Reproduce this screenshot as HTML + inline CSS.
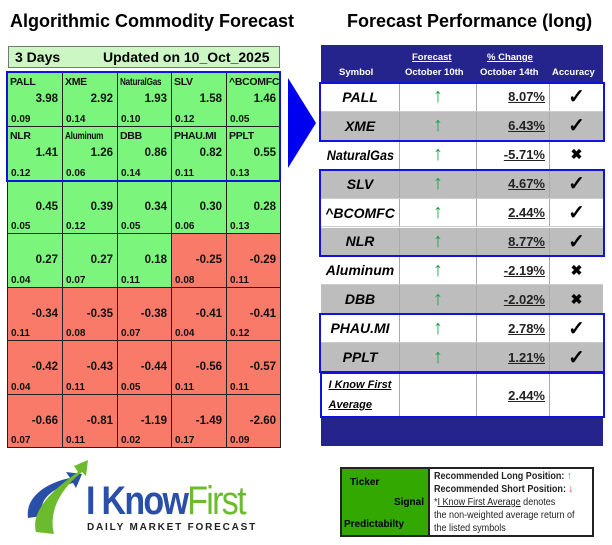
<!DOCTYPE html>
<html><head><meta charset="utf-8"><style>
body{margin:0;width:612px;height:545px;background:#fff;position:relative;overflow:hidden;font-family:"Liberation Sans",Arial,sans-serif}
.abs{position:absolute}
.title{font-weight:bold;font-size:18px;color:#000;top:11px;white-space:nowrap}
.cell{position:absolute;box-sizing:border-box;border:1px solid #222;font-weight:bold;color:#111}
.cell .n{position:absolute;left:2px;top:3px;font-size:10.5px;white-space:nowrap;letter-spacing:-0.3px;transform-origin:left}
.cell .v{position:absolute;right:4px;top:20px;font-size:11.5px}
.cell .p{position:absolute;left:3px;bottom:1px;font-size:10px}
.rc{position:absolute;box-sizing:border-box;border-right:1px solid #aaa;display:flex;align-items:center;justify-content:center}
</style></head><body>
<div class="abs title" style="left:10px">Algorithmic Commodity Forecast</div>
<div class="abs title" style="left:347px">Forecast Performance (long)</div>
<div class="abs" style="left:8px;top:46px;width:272px;height:22px;background:#ccf7c4;border:1px solid #777;box-sizing:border-box;font-weight:bold;font-size:14px;white-space:nowrap">
<span style="position:absolute;left:6px;top:2px">3 Days</span><span style="position:absolute;left:94px;top:2px">Updated on 10_Oct_2025</span></div>
<div id="grid"></div>
<div class="abs" style="left:6px;top:71px;width:275px;height:111px;border:2px solid #1212e0;box-sizing:border-box"></div>
<svg class="abs" style="left:286px;top:76px" width="32" height="96"><polygon points="2,2 30,47 2,92" fill="#0000f0"/></svg>
<div id="tbl"></div>
<div class="abs" style="left:20px;top:458px;width:250px;height:82px">
<svg class="abs" style="left:0;top:0" width="70" height="82"><path d="M8,60 C5,40 25,25 50,20 L46,14 L62,16 L56,30 L53,25 C32,30 18,42 22,58 Z" fill="#2a4fa8"/><path d="M16,74 C10,52 35,30 58,14 L54,8 L68,2 L66,18 L62,14 C42,30 28,52 34,76 Z" fill="#6cbb2e"/></svg>
<div class="abs" style="left:66px;top:22px;font-size:40px;letter-spacing:-2px;transform:scaleX(0.85);transform-origin:left;white-space:nowrap;line-height:42px"><span style="color:#2a4fa8;font-weight:bold">I Know</span><span style="color:#6cbb2e">First</span></div>
<div class="abs" style="left:67px;top:64px;font-size:10px;font-weight:bold;letter-spacing:1.8px;color:#222;white-space:nowrap">DAILY MARKET FORECAST</div>
</div>
<div class="abs" style="left:340px;top:467px;width:254px;height:70px;border:2px solid #222;box-sizing:border-box;font-size:10px">
<div class="abs" style="left:0;top:0;width:86px;height:66px;background:#32a800;border-right:2px solid #222;font-weight:bold">
<span class="abs" style="left:8px;top:8px">Ticker</span><span class="abs" style="right:4px;top:28px">Signal</span><span class="abs" style="left:2px;top:50px">Predictabilty</span></div>
<div class="abs" style="left:92px;top:1px;line-height:13px;width:170px;color:#222;white-space:nowrap;transform:scaleX(0.86);transform-origin:left;font-size:10.5px">
<b>Recommended Long Position: <span style="color:#1a9e4a">↑</span></b><br><b>Recommended Short Position: <span style="color:#e22">↓</span></b><br>*<u>I Know First Average</u> denotes<br>the non-weighted average return of<br>the listed symbols</div></div>
<script>
const tickers=["PALL","XME","NaturalGas","SLV","^BCOMFC","NLR","Aluminum","DBB","PHAU.MI","PPLT"];
const signals=[3.98,2.92,1.93,1.58,1.46,1.41,1.26,0.86,0.82,0.55,0.45,0.39,0.34,0.30,0.28,0.27,0.27,0.18,-0.25,-0.29,-0.34,-0.35,-0.38,-0.41,-0.41,-0.42,-0.43,-0.44,-0.56,-0.57,-0.66,-0.81,-1.19,-1.49,-2.60];
const predict=["0.09","0.14","0.10","0.12","0.05","0.12","0.06","0.14","0.11","0.13","0.05","0.12","0.05","0.06","0.13","0.04","0.07","0.11","0.08","0.11","0.11","0.08","0.07","0.04","0.12","0.04","0.11","0.05","0.11","0.11","0.07","0.11","0.02","0.17","0.09"];
const changes=[8.07,6.43,-5.71,4.67,2.44,8.77,-2.19,-2.02,2.78,1.21];
const average=2.44;
const g=document.getElementById('grid');
const colX=[7,62,117,171,226,280],rowY=[72,126,180,233,287,340,394,447];
signals.forEach((s,i)=>{const r=Math.floor(i/5),c=i%5;
const d=document.createElement('div');d.className='cell';


d.style.cssText=`left:${colX[c]}px;top:${rowY[r]}px;width:${colX[c+1]-colX[c]+1}px;height:${rowY[r+1]-rowY[r]+1}px;background:${s>=0?'#7bf57b':'#fa7a6a'}`;
const nm=i<10?tickers[i]:'';
d.innerHTML=`<span class="n" style="${nm.length>7?'transform:scaleX(0.78)':''}">${nm}</span><span class="v">${s.toFixed(2)}</span><span class="p">${predict[i]}</span>`;g.appendChild(d);});
const t=document.getElementById('tbl');
const hd=document.createElement('div');hd.className='abs';


hd.style.cssText='left:321px;top:45px;width:282px;height:38px;background:#24248c;color:#fff;font-weight:bold;font-size:9.5px;white-space:nowrap';
hd.innerHTML='<span class="abs" style="left:18px;top:22px">Symbol</span><span class="abs" style="left:91px;top:7px;text-decoration:underline">Forecast</span><span class="abs" style="left:84px;top:22px">October 10th</span><span class="abs" style="left:166px;top:7px;text-decoration:underline">% Change</span><span class="abs" style="left:159px;top:22px">October 14th</span><span class="abs" style="left:231px;top:22px">Accuracy</span>';
t.appendChild(hd);
const rh=28.9,ry0=83;
changes.forEach((v,i)=>{const y=ry0+i*rh;
const row=document.createElement('div');row.className='abs';


row.style.cssText=`left:321px;top:${y}px;width:282px;height:${rh}px;background:${i%2?'#bdbdbd':'#fff'};border-bottom:1px solid #ccc;box-sizing:border-box`;
const ok=v>0;
row.innerHTML=`<div class="rc" style="left:0;width:79px;height:100%;font-weight:bold;font-style:italic;font-size:14px;white-space:nowrap"><span style="display:inline-block;${tickers[i].length>8?'transform:scaleX(0.9)':''}">${tickers[i]}</span></div><div class="rc" style="left:79px;width:77px;height:100%;color:#1a9e4a;font-size:20px">↑</div><div class="rc" style="left:156px;width:73px;height:100%;justify-content:flex-end;padding-right:4px;font-weight:bold;font-size:13px;text-decoration:underline;color:#222">${v.toFixed(2)}%</div><div class="rc" style="left:229px;width:53px;height:100%;border:none;font-size:${ok?20:14}px;font-weight:bold">${ok?'✓':'✖'}</div>`;
t.appendChild(row);});
const ay=ry0+10*rh;
const av=document.createElement('div');av.className='abs';


av.style.cssText=`left:321px;top:${ay}px;width:282px;height:46px;background:#fff`;
av.innerHTML=`<div class="rc" style="left:0;width:79px;height:100%;flex-direction:column;font-weight:bold;font-style:italic;font-size:11px;text-decoration:underline;line-height:20px">I Know First<br>Average</div><div class="rc" style="left:79px;width:77px;height:100%"></div><div class="rc" style="left:156px;width:73px;height:100%;justify-content:flex-end;padding-right:4px;font-weight:bold;font-size:13px;text-decoration:underline;color:#222">${average.toFixed(2)}%</div>`;
t.appendChild(av);
const ft=document.createElement('div');ft.className='abs';


ft.style.cssText=`left:321px;top:${ay+46}px;width:282px;height:28px;background:#24248c`;t.appendChild(ft);
[[0,2],[3,3],[8,2]].forEach(([s,n])=>{const b=document.createElement('div');b.className='abs';


b.style.cssText=`left:319px;top:${ry0+s*rh-1}px;width:286px;height:${n*rh+2}px;border:2.5px solid #1212e0;box-sizing:border-box`;t.appendChild(b);});
const ab=document.createElement('div');ab.className='abs';


ab.style.cssText=`left:320px;top:${ay}px;width:285px;height:46px;border:2.5px solid #1212e0;box-sizing:border-box`;t.appendChild(ab);
</script>
</body></html>
